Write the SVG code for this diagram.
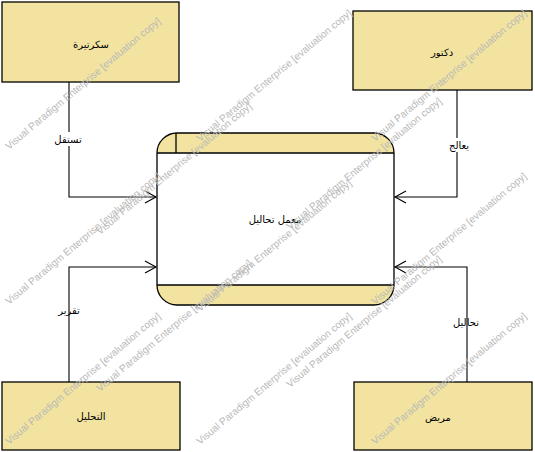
<svg xmlns="http://www.w3.org/2000/svg" width="535" height="452" viewBox="0 0 535 452">
<style>
.box{fill:#F2E4A0;stroke:#000;stroke-width:1.3}
.lbl{font-family:"DejaVu Sans",sans-serif;font-size:10px;fill:#000;text-anchor:middle;dominant-baseline:central}
.wm{font-family:"Liberation Sans",sans-serif;font-size:10px;fill:#b8b8b8}
.con{fill:none;stroke:#000;stroke-width:1.1}
</style>
<defs>
<marker id="arr" markerUnits="userSpaceOnUse" markerWidth="14" markerHeight="14" refX="12" refY="7" orient="auto">
<path d="M1,1 L12,7 L1,13" fill="none" stroke="#000" stroke-width="1.1"/>
</marker>
</defs>
<rect width="535" height="452" fill="#fff"/>
<g id="connectors">
<path class="con" d="M69,82 V197 H156" marker-end="url(#arr)"/>
<path class="con" d="M457,90 V197 H395" marker-end="url(#arr)"/>
<path class="con" d="M69,382 V267 H156" marker-end="url(#arr)"/>
<path class="con" d="M467,382 V267 H395" marker-end="url(#arr)"/>
<rect x="52" y="132" width="32" height="14" fill="#fff"/>
<text class="lbl" x="68" y="139">تستقل</text>
<rect x="446" y="138" width="26" height="14" fill="#fff"/>
<text class="lbl" x="459" y="145">يعالج</text>
<text class="lbl" x="69" y="310">تقرير</text>
<text class="lbl" x="466" y="322">تحاليل</text>
</g>
<g id="secretary">
<rect class="box" x="2" y="2" width="177" height="80"/>
<text class="lbl" x="91" y="44">سكرتيرة</text>
</g>
<g id="doctor">
<rect class="box" x="353" y="11" width="179" height="79"/>
<text class="lbl" x="442" y="52">دكتور</text>
</g>
<g id="analysis">
<rect class="box" x="2" y="382" width="178" height="68"/>
<text class="lbl" x="91" y="416">التحليل</text>
</g>
<g id="patient">
<rect class="box" x="354" y="382" width="178" height="68"/>
<text class="lbl" x="438" y="417">مريض</text>
</g>
<g id="lab">
<rect x="157" y="133" width="237" height="172" rx="20" fill="#fff"/>
<path d="M157,153 A20,20 0 0 1 177,133 H374 A20,20 0 0 1 394,153 Z" fill="#F2E4A0"/>
<path d="M157,285 H394 A20,20 0 0 1 374,305 H177 A20,20 0 0 1 157,285 Z" fill="#F2E4A0"/>
<rect x="157" y="133" width="237" height="172" rx="20" fill="none" stroke="#000" stroke-width="1.3"/>
<path d="M157,153 H394 M176,133 V153 M157,285 H394" stroke="#000" stroke-width="1.3" fill="none"/>
<text class="lbl" x="275" y="219">معمل تحاليل</text>
</g>
<g id="watermarks">
<text class="wm" transform="translate(9,150) rotate(-40)">Visual Paradigm Enterprise [evaluation copy]</text>
<text class="wm" transform="translate(200,142) rotate(-40)">Visual Paradigm Enterprise [evaluation copy]</text>
<text class="wm" transform="translate(375,142) rotate(-40)">Visual Paradigm Enterprise [evaluation copy]</text>
<text class="wm" transform="translate(100,235) rotate(-40)">Visual Paradigm Enterprise [evaluation copy]</text>
<text class="wm" transform="translate(290,230) rotate(-40)">Visual Paradigm Enterprise [evaluation copy]</text>
<text class="wm" transform="translate(9,305) rotate(-40)">Visual Paradigm Enterprise [evaluation copy]</text>
<text class="wm" transform="translate(200,312) rotate(-40)">Visual Paradigm Enterprise [evaluation copy]</text>
<text class="wm" transform="translate(375,305) rotate(-40)">Visual Paradigm Enterprise [evaluation copy]</text>
<text class="wm" transform="translate(100,392) rotate(-40)">Visual Paradigm Enterprise [evaluation copy]</text>
<text class="wm" transform="translate(290,388) rotate(-40)">Visual Paradigm Enterprise [evaluation copy]</text>
<text class="wm" transform="translate(9,445) rotate(-40)">Visual Paradigm Enterprise [evaluation copy]</text>
<text class="wm" transform="translate(200,445) rotate(-40)">Visual Paradigm Enterprise [evaluation copy]</text>
<text class="wm" transform="translate(375,445) rotate(-40)">Visual Paradigm Enterprise [evaluation copy]</text>
</g>
</svg>
